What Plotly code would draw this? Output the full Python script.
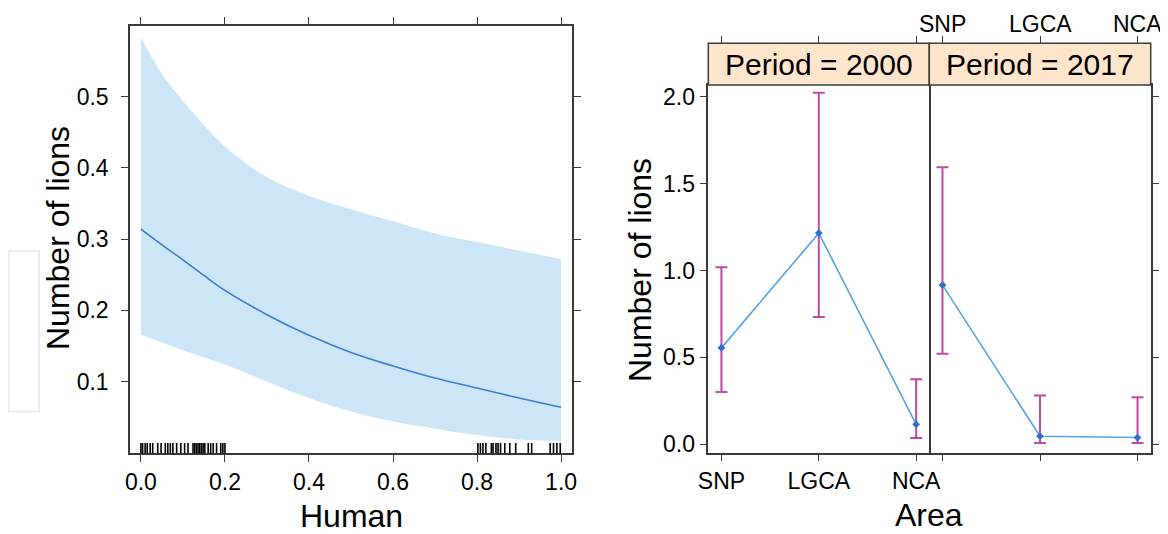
import plotly.graph_objects as go

W, H = 1168, 534          # browser window
OFF = 8                   # default body margin of the html page
FW, FH = W - OFF, H - OFF # figure size so it ends at the window edge

# ---------------- data: left panel (effect of Human) ----------------
human_x = [0.0, 0.05, 0.1, 0.15, 0.2, 0.3, 0.4, 0.5, 0.6, 0.7, 0.8, 0.9, 1.0]
fit = [0.314, 0.292, 0.271, 0.249, 0.228, 0.194, 0.165, 0.141, 0.122, 0.105, 0.091, 0.077, 0.064]
upper = [0.583, 0.532, 0.494, 0.460, 0.430, 0.387, 0.361, 0.342, 0.325, 0.308, 0.296, 0.284, 0.272]
lower = [0.166, 0.155, 0.144, 0.134, 0.124, 0.100, 0.077, 0.058, 0.044, 0.034, 0.025, 0.019, 0.017]
rug = [0.0, 0.004, 0.010, 0.015, 0.022, 0.028, 0.040, 0.048, 0.058, 0.064, 0.070, 0.076,
       0.085, 0.095, 0.104, 0.112, 0.124, 0.128, 0.132, 0.136, 0.140, 0.144, 0.148, 0.152,
       0.160, 0.166, 0.172, 0.180, 0.190, 0.195, 0.200,
       0.802, 0.808, 0.814, 0.821, 0.834, 0.838, 0.845, 0.850, 0.856, 0.866, 0.878, 0.892,
       0.922, 0.930, 0.974, 0.982, 0.990, 0.998]
left_yticks = [0.1, 0.2, 0.3, 0.4, 0.5]
left_xticks = [0.0, 0.2, 0.4, 0.6, 0.8, 1.0]

# ---------------- data: right panels (Area x Period) ----------------
areas = ["SNP", "LGCA", "NCA"]
periods = ["2000", "2017"]
est_2000 = [0.555, 1.215, 0.115]
lo_2000 = [0.301, 0.732, 0.037]
hi_2000 = [1.018, 2.023, 0.375]
est_2017 = [0.916, 0.047, 0.039]
lo_2017 = [0.521, 0.008, 0.008]
hi_2017 = [1.594, 0.281, 0.271]
right_yticks = [0.0, 0.5, 1.0, 1.5, 2.0]

# ---------------- styles ----------------
FONT = "Liberation Sans, Arial, sans-serif"
AX = "#3a3a3a"
BAND = "#cde6f7"
LINE_L = "#3b7dcd"
LINE_R = "#55a3e2"
PT = "#2f6ecb"
ERR = "#c248a2"
STRIP = "#ffe5cc"
TICKF = dict(family=FONT, size=23, color="black")

def px(x):
    return (x - OFF) / FW

def py(y):
    return 1 - (y - OFF) / FH

fig = go.Figure()

# left panel band + fit
fig.add_trace(go.Scatter(x=human_x, y=lower, mode="lines", line=dict(width=0, shape="spline", smoothing=1.0),
                         hoverinfo="skip", showlegend=False, xaxis="x", yaxis="y"))
fig.add_trace(go.Scatter(x=human_x, y=upper, mode="lines", line=dict(width=0, shape="spline", smoothing=1.0),
                         fill="tonexty", fillcolor=BAND, hoverinfo="skip", showlegend=False,
                         xaxis="x", yaxis="y"))
fig.add_trace(go.Scatter(x=human_x, y=fit, mode="lines",
                         line=dict(color=LINE_L, width=1.6, shape="spline", smoothing=1.0),
                         showlegend=False, xaxis="x", yaxis="y"))

# right panels
idx = list(range(len(areas)))
for est, lo, hi, xa, ya in [(est_2000, lo_2000, hi_2000, "x2", "y2"),
                            (est_2017, lo_2017, hi_2017, "x3", "y3")]:
    fig.add_trace(go.Scatter(
        x=idx, y=est, mode="lines+markers",
        line=dict(color=LINE_R, width=1.6),
        marker=dict(color=PT, size=6, symbol="diamond"),
        error_y=dict(type="data", symmetric=False,
                     array=[h - e for h, e in zip(hi, est)],
                     arrayminus=[e - l for e, l in zip(est, lo)],
                     color=ERR, thickness=2, width=6),
        showlegend=False, xaxis=xa, yaxis=ya))

# invisible traces for the top tick axes
fig.add_trace(go.Scatter(x=idx, y=est_2000, mode="markers", marker=dict(opacity=0),
                         hoverinfo="skip", showlegend=False, xaxis="x4", yaxis="y2"))
fig.add_trace(go.Scatter(x=idx, y=est_2017, mode="markers", marker=dict(opacity=0),
                         hoverinfo="skip", showlegend=False, xaxis="x5", yaxis="y3"))

# geometry (window pixels)
L_x0, L_x1, L_y0, L_y1 = 130, 572, 26, 453.3
R1_x0, R_mid, R2_x1 = 708.3, 929.3, 1150.7
R_y_top, R_y_bot, S_top = 85, 452.7, 43.3

common_ax = dict(showgrid=False, zeroline=False, showline=True, linecolor=AX, linewidth=1.5,
                 ticks="outside", ticklen=7, tickwidth=1.3, tickcolor=AX, tickfont=TICKF,
                 automargin=False)
top_ax = dict(showgrid=False, zeroline=False, showline=False, automargin=False,
              ticks="outside", ticklen=7, tickwidth=1.3, tickcolor=AX, tickfont=TICKF,
              side="top", anchor="free", position=py(S_top), showticklabels=False)

cat_range = [-0.135, 2.135]

fig.update_layout(
    width=FW, height=FH, margin=dict(l=0, r=0, t=0, b=0, autoexpand=False),
    paper_bgcolor="white", plot_bgcolor="white",
    font=dict(family=FONT, color="black"),
    xaxis=dict(domain=[px(L_x0), px(L_x1)], range=[-0.026, 1.026], tickvals=left_xticks,
               tickformat=".1f", mirror="allticks", anchor="y", **common_ax),
    yaxis=dict(domain=[py(L_y1), py(L_y0)], range=[-0.0005, 0.599], tickvals=left_yticks,
               tickformat=".1f", mirror="allticks", anchor="x", ticklabelstandoff=8, **common_ax),
    xaxis2=dict(domain=[px(R1_x0), px(R_mid)], range=cat_range, tickvals=idx, ticktext=areas,
                mirror=True, anchor="y2", **common_ax),
    xaxis3=dict(domain=[px(R_mid), px(R2_x1)], range=cat_range, tickvals=idx, ticktext=areas,
                showticklabels=False, mirror=True, anchor="y3", **common_ax),
    yaxis2=dict(domain=[py(R_y_bot), py(R_y_top)], range=[-0.048, 2.067], tickvals=right_yticks,
                tickformat=".1f", mirror=True, anchor="x2", **common_ax),
    yaxis3=dict(domain=[py(R_y_bot), py(R_y_top)], range=[-0.048, 2.067], tickvals=right_yticks,
                showticklabels=False, side="right", mirror=False, anchor="x3", **common_ax),
    xaxis4=dict(domain=[px(R1_x0), px(R_mid)], range=cat_range, tickvals=idx,
                overlaying="x2", **top_ax),
    xaxis5=dict(domain=[px(R_mid), px(R2_x1)], range=cat_range, tickvals=idx,
                overlaying="x3", **top_ax),
)

shapes = []
# rug
for v in rug:
    shapes.append(dict(type="line", xref="x", yref="y domain", x0=v, x1=v, y0=0, y1=0.024,
                       line=dict(color="black", width=1.6)))
# strips
for x0, x1 in [(R1_x0, R_mid), (R_mid, R2_x1)]:
    shapes.append(dict(type="rect", xref="paper", yref="paper", x0=px(x0), x1=px(x1),
                       y0=py(R_y_top), y1=py(S_top), fillcolor=STRIP,
                       line=dict(color=AX, width=1.5), layer="above"))
# faint artefacts of the source image
shapes.append(dict(type="rect", xref="paper", yref="paper", x0=px(8.5), x1=px(39), y0=py(411.5), y1=py(251),
                   line=dict(color="#ececec", width=2), fillcolor="rgba(0,0,0,0)"))
shapes.append(dict(type="line", xref="paper", yref="paper", x0=px(1162.5), x1=px(1162.5), y0=py(410), y1=py(322),
                   line=dict(color="#ececec", width=1.5)))
fig.update_layout(shapes=shapes)

ann = []
for i, (x0, x1) in enumerate([(R1_x0, R_mid), (R_mid, R2_x1)]):
    ann.append(dict(text="Period = " + periods[i], xref="paper", yref="paper",
                    x=px((x0 + x1) / 2), y=py((R_y_top + S_top) / 2), showarrow=False,
                    xanchor="center", yanchor="middle", font=dict(family=FONT, size=30, color="black")))
# top tick labels of the 2017 panel (lattice alternating labels)
for i, a in enumerate(areas):
    ann.append(dict(text=a, xref="x5", yref="paper", x=idx[i], y=py(24), showarrow=False,
                    xanchor="center", yanchor="middle", font=TICKF))
TITLEF = dict(family=FONT, size=32, color="black")
ann.append(dict(text="Number of lions", xref="paper", yref="paper", x=px(58), y=py(238),
                textangle=-90, showarrow=False, xanchor="center", yanchor="middle", font=TITLEF))
ann.append(dict(text="Human", xref="paper", yref="paper", x=px(351), y=py(516),
                showarrow=False, xanchor="center", yanchor="middle", font=TITLEF))
ann.append(dict(text="Number of lions", xref="paper", yref="paper", x=px(640), y=py(270),
                textangle=-90, showarrow=False, xanchor="center", yanchor="middle", font=TITLEF))
ann.append(dict(text="Area", xref="paper", yref="paper", x=px(929), y=py(515),
                showarrow=False, xanchor="center", yanchor="middle", font=TITLEF))
fig.update_layout(annotations=ann)

fig.write_html("out.html")
